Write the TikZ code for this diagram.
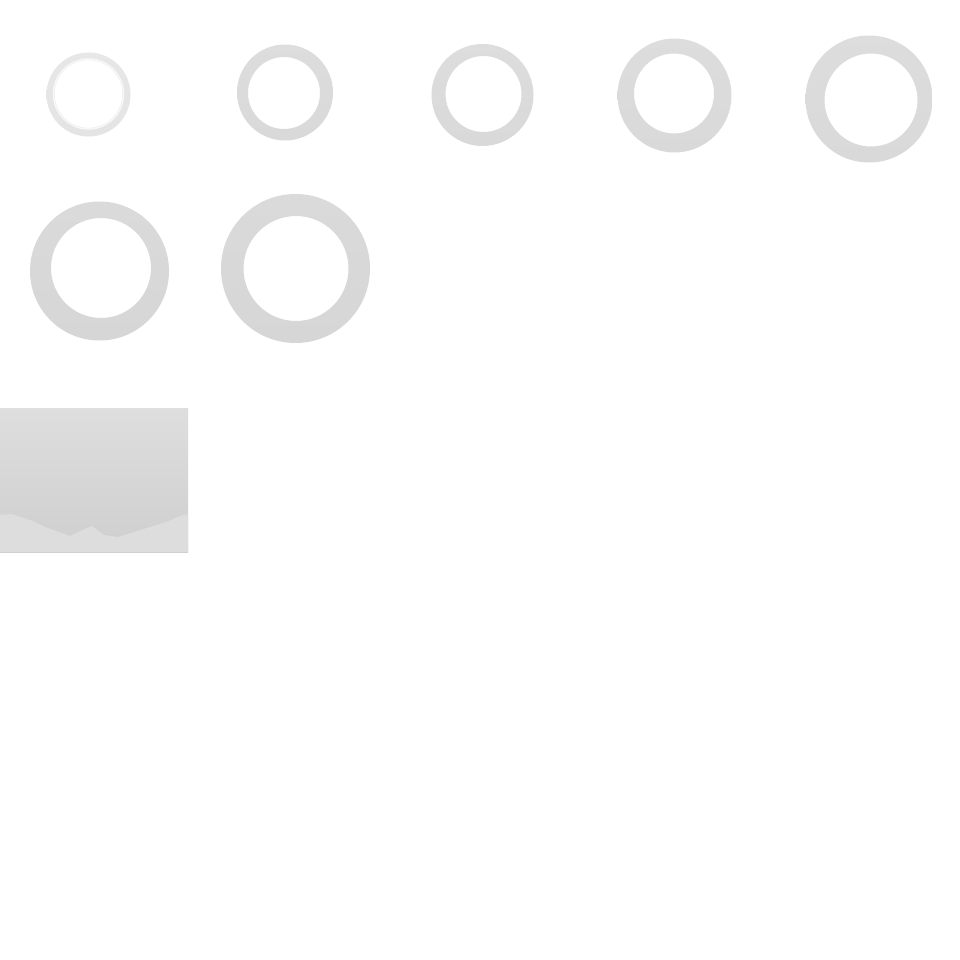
\documentclass[tikz,border=0pt]{standalone}
\begin{document}
\begin{tikzpicture}[x=1pt,y=-1pt,
  ringshade/.style={even odd rule, top color=#1!90!white, bottom color=#1}]
\useasboundingbox[fill=white] (0,0) rectangle (960,960);
\definecolor{ga}{HTML}{E4E4E4}
\definecolor{gb}{HTML}{D9D9D9}
\definecolor{gc}{HTML}{D6D6D6}
% ring 1
\shade[ringshade=ga] (88.5,94.5) circle[radius=42] (88.5,94) circle[radius=34];
\draw[white!70!ga, line width=1.5pt] (88.5,94) circle[radius=35];
% ring 2
\shade[ringshade=gb] (285,92.5) circle[radius=48] (284,93) circle[radius=36];
% ring 3
\shade[ringshade=gb] (482.5,95) circle[radius=51] (483.5,94) circle[radius=38];
% ring 4
\shade[ringshade=gb] (674.5,95.5) circle[radius=57] (674,93.5) circle[radius=40];
% ring 5
\shade[ringshade=gb] (869,99) circle[radius=63.5] (871,100) circle[radius=46.5];
% ring 6
\shade[ringshade=gc] (99.5,271) circle[radius=69.5] (101,268) circle[radius=50];
% ring 7
\shade[ringshade=gc] (295.5,268.5) circle[radius=74.5] (296,268.5) circle[radius=52.5];
% panel
\shade[top color=black!13, bottom color=black!19] (0,408) rectangle (188,552);
\fill[black!13.5] (0,552) -- (0,515) -- (12,514) -- (30,520) -- (48,528) -- (70,536) -- (82,530) -- (92,526) -- (104,535) -- (118,537) -- (134,532) -- (150,527) -- (166,522) -- (180,516) -- (188,514) -- (188,552) -- cycle;
\end{tikzpicture}
\end{document}
